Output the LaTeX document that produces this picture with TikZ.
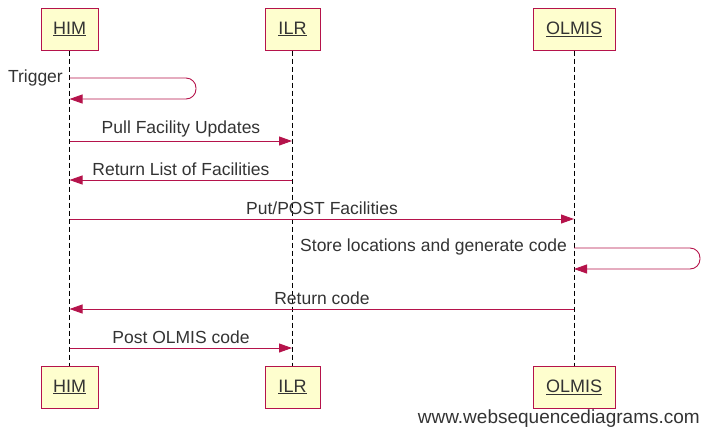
\documentclass[tikz,border=0pt]{standalone}
\usepackage{fontspec}
\setmainfont{Liberation Sans}
\usetikzlibrary{arrows.meta}
\definecolor{wsdred}{HTML}{B5134B}
\definecolor{wsdfill}{HTML}{FEFECE}
\definecolor{wsdtext}{HTML}{333333}
\begin{document}
\begin{tikzpicture}[x=1pt,y=-1pt,
  actor/.style={draw=wsdred,fill=wsdfill,line width=1pt,minimum height=42pt,inner sep=0pt,text=wsdtext,font=\fontsize{18}{20}\selectfont},
  lifeline/.style={draw=black,dash pattern=on 5pt off 3pt,line width=0.8pt},
  msg/.style={draw=wsdred,line width=0.9pt,-{Triangle[length=13pt,width=9pt]}},
  lbl/.style={text=wsdtext,font=\fontsize{17.5}{20}\selectfont,inner sep=0pt}]
\useasboundingbox (0,0) rectangle (701,429);
% actors
\node[actor,minimum width=57pt] (himT) at (69.5,29) {\underline{HIM}};
\node[actor,minimum width=55pt] (ilrT) at (292.5,29) {\underline{ILR}};
\node[actor,minimum width=82pt] (olmT) at (574,29) {\underline{OLMIS}};
\node[actor,minimum width=57pt] (himB) at (69.5,387) {\underline{HIM}};
\node[actor,minimum width=55pt] (ilrB) at (292.5,387) {\underline{ILR}};
\node[actor,minimum width=82pt] (olmB) at (574,387) {\underline{OLMIS}};
% lifelines
\draw[lifeline] (himT.south) -- (himB.north);
\draw[lifeline] (ilrT.south) -- (ilrB.north);
\draw[lifeline] (olmT.south) -- (olmB.north);
% coordinates on lifelines
\coordinate (h1) at (69.5,78);   \coordinate (h1b) at (69.5,99);
\coordinate (h2) at (69.5,141);  \coordinate (i2) at (292,141);
\coordinate (h3) at (69.5,180);  \coordinate (i3) at (292,180);
\coordinate (h4) at (69.5,219);  \coordinate (o4) at (574,219);
\coordinate (o5) at (574,248);   \coordinate (o5b) at (574,269);
\coordinate (h6) at (69.5,309);  \coordinate (o6) at (574,309);
\coordinate (h7) at (69.5,348);  \coordinate (i7) at (292,348);
% messages
\draw[msg,rounded corners=10pt] (h1) -- (196,78) -- (196,99) -- (h1b);
\node[lbl,anchor=east] (t1) at (63,78) {Trigger};
\draw[msg] (h2) -- (i2);
\node[lbl] (t2) at (181,129) {Pull Facility Updates};
\draw[msg] (i3) -- (h3);
\node[lbl] (t3) at (181,169) {Return List of Facilities};
\draw[msg] (h4) -- (o4);
\node[lbl] (t4) at (322,208) {Put/POST Facilities};
\draw[msg,rounded corners=10pt] (o5) -- (700,248) -- (700,269) -- (o5b);
\node[lbl,anchor=east] (t5) at (567,247) {Store locations and generate code};
\draw[msg] (o6) -- (h6);
\node[lbl] (t6) at (322,298) {Return code};
\draw[msg] (h7) -- (i7);
\node[lbl] (t7) at (181,337) {Post OLMIS code};
\node[text=wsdtext,font=\fontsize{19}{21}\selectfont,inner sep=0pt,anchor=east] (foot) at (700,419) {www.websequencediagrams.com};
\end{tikzpicture}
\end{document}
